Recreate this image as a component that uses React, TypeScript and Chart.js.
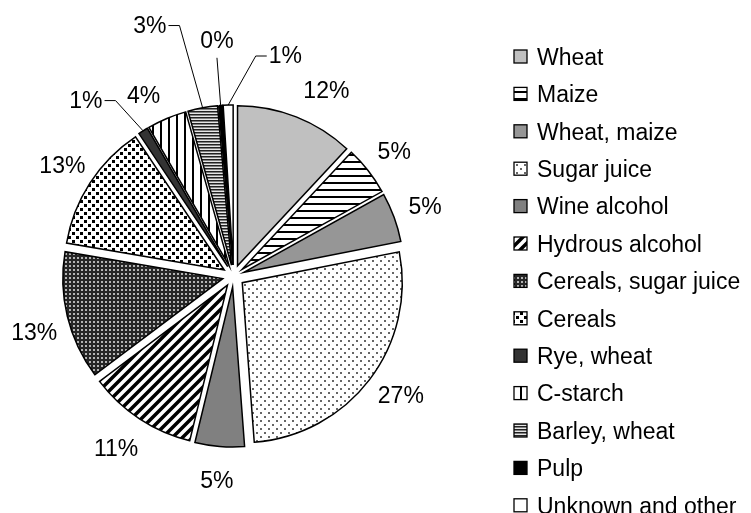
import React, { useEffect, useRef } from 'react';
import { Chart, registerables } from 'chart.js';

Chart.register(...registerables);

// ---- data ----
const CATEGORIES = [
  'Wheat',
  'Maize',
  'Wheat, maize',
  'Sugar juice',
  'Wine alcohol',
  'Hydrous alcohol',
  'Cereals, sugar juice',
  'Cereals',
  'Rye, wheat',
  'C-starch',
  'Barley, wheat',
  'Pulp',
  'Unknown and other',
];
const SHARES = [12, 5, 5, 27, 5, 11, 13, 13, 1, 4, 3, 0.4, 1];

// ---- layout / style ----
const W = 751;
const H = 513;
const FONT = '"Liberation Sans", Arial, Helvetica, sans-serif';
const FONT_SIZE = 23;
const CAP = FONT_SIZE * 0.716;
const PIE_CX = 233.5;
const PIE_CY = 276;
const PIE_R = 160;
const EXPLODE = 11;
const LABEL_GAP = 44;
const LEGEND_X = 514;
const LEGEND_TOP = 56.5;
const LEGEND_STEP = 37.4;
const BOX = 13;
const TEXT_X = 537;

type Nudge = { turn: number; dist: number; leader?: 'side' | 'below' } | null;
const LABEL_NUDGE: Nudge[] = [
  { turn: 5, dist: 208 },
  null,
  null,
  { turn: -2, dist: 205 },
  null,
  { turn: 1, dist: 208 },
  { turn: -2, dist: 207 },
  null,
  { turn: -8, dist: 230, leader: 'side' },
  { turn: -3.5, dist: 202 },
  { turn: -8, dist: 265, leader: 'side' },
  { turn: 0.3, dist: 237, leader: 'below' },
  { turn: 15, dist: 227, leader: 'side' },
];

function tile(w: number, h: number, paint: (c: CanvasRenderingContext2D) => void): CanvasPattern {
  const cv = document.createElement('canvas');
  cv.width = w;
  cv.height = h;
  const c = cv.getContext('2d')!;
  paint(c);
  return c.createPattern(cv, 'repeat')!;
}

function makeFills(): (string | CanvasPattern)[] {
  return [
    '#c0c0c0',
    tile(8, 7, (c) => {
      c.fillStyle = '#fff';
      c.fillRect(0, 0, 8, 7);
      c.fillStyle = '#000';
      c.fillRect(0, 0, 8, 2);
    }),
    '#969696',
    tile(8, 8, (c) => {
      c.fillStyle = '#fff';
      c.fillRect(0, 0, 8, 8);
      c.fillStyle = '#666';
      c.fillRect(0, 0, 2, 2);
      c.fillRect(4, 4, 2, 2);
    }),
    '#808080',
    tile(10, 10, (c) => {
      c.fillStyle = '#fff';
      c.fillRect(0, 0, 10, 10);
      c.strokeStyle = '#000';
      c.lineWidth = 3.5;
      c.beginPath();
      c.moveTo(-1, 11);
      c.lineTo(11, -1);
      c.moveTo(-6, 6);
      c.lineTo(6, -6);
      c.moveTo(4, 16);
      c.lineTo(16, 4);
      c.stroke();
    }),
    tile(4, 4, (c) => {
      c.fillStyle = '#262626';
      c.fillRect(0, 0, 4, 4);
      c.fillStyle = '#b4b4b4';
      c.fillRect(1, 1, 2, 2);
    }),
    tile(8, 8, (c) => {
      c.fillStyle = '#fff';
      c.fillRect(0, 0, 8, 8);
      c.fillStyle = '#000';
      c.fillRect(0, 0, 3, 3);
      c.fillRect(4, 4, 3, 3);
    }),
    '#333333',
    tile(8, 1, (c) => {
      c.fillStyle = '#fff';
      c.fillRect(0, 0, 8, 1);
      c.fillStyle = '#000';
      c.fillRect(0, 0, 2, 1);
    }),
    tile(1, 3, (c) => {
      c.fillStyle = '#222';
      c.fillRect(0, 0, 1, 1);
      c.fillStyle = '#808080';
      c.fillRect(0, 1, 1, 1);
      c.fillStyle = '#e6e6e6';
      c.fillRect(0, 2, 1, 1);
    }),
    '#000000',
    '#ffffff',
  ];
}

const explodePlugin = {
  id: 'explodeSlices',
  afterDatasetUpdate(_chart: any, args: any) {
    args.meta.data.forEach((el: any) => {
      const mid = (el.startAngle + el.endAngle) / 2;
      el.x += Math.cos(mid) * EXPLODE;
      el.y += Math.sin(mid) * EXPLODE;
    });
  },
};

const labelPlugin = {
  id: 'pctLabels',
  afterDatasetsDraw(chart: any) {
    const ctx: CanvasRenderingContext2D = chart.ctx;
    const meta = chart.getDatasetMeta(0);
    const data = chart.data.datasets[0].data as number[];
    const total = data.reduce((a, b) => a + b, 0);
    const cx = (chart.chartArea.left + chart.chartArea.right) / 2;
    const cy = (chart.chartArea.top + chart.chartArea.bottom) / 2;
    ctx.save();
    ctx.font = `${FONT_SIZE}px ${FONT}`;
    ctx.fillStyle = '#000';
    ctx.strokeStyle = '#000';
    ctx.lineWidth = 1;
    meta.data.forEach((el: any, i: number) => {
      const mid = (el.startAngle + el.endAngle) / 2;
      const nudge = LABEL_NUDGE[i];
      const ang = mid + (nudge ? (nudge.turn * Math.PI) / 180 : 0);
      const dist = nudge ? nudge.dist : el.outerRadius + LABEL_GAP;
      const lx = cx + Math.cos(ang) * dist;
      const ly = cy + Math.sin(ang) * dist;
      const text = Math.round((data[i] / total) * 100) + '%';
      const w = ctx.measureText(text).width;
      ctx.textAlign = 'center';
      ctx.textBaseline = 'alphabetic';
      ctx.fillText(text, lx, ly + CAP / 2);
      if (nudge && nudge.leader) {
        const ex = el.x + Math.cos(mid) * el.outerRadius;
        const ey = el.y + Math.sin(mid) * el.outerRadius;
        ctx.beginPath();
        if (nudge.leader === 'below') {
          ctx.moveTo(lx, ly + CAP / 2 + 10);
          ctx.lineTo(ex, ey);
        } else {
          const side = ex > lx ? 1 : -1;
          const sx = lx + side * (w / 2 + 2);
          ctx.moveTo(sx, ly + 1);
          ctx.lineTo(sx + side * 11, ly + 1);
          ctx.lineTo(ex, ey);
        }
        ctx.stroke();
      }
    });
    ctx.restore();
  },
};

const legendPlugin = {
  id: 'sideLegend',
  afterDraw(chart: any) {
    const ctx: CanvasRenderingContext2D = chart.ctx;
    const fills = chart.data.datasets[0].backgroundColor as (string | CanvasPattern)[];
    ctx.save();
    ctx.font = `${FONT_SIZE}px ${FONT}`;
    ctx.textAlign = 'left';
    ctx.textBaseline = 'alphabetic';
    (chart.data.labels as string[]).forEach((lab, i) => {
      const yc = LEGEND_TOP + i * LEGEND_STEP;
      ctx.fillStyle = fills[i];
      ctx.fillRect(LEGEND_X, yc - BOX / 2, BOX, BOX);
      ctx.lineWidth = 1.3;
      ctx.strokeStyle = '#000';
      ctx.strokeRect(LEGEND_X, yc - BOX / 2, BOX, BOX);
      ctx.fillStyle = '#000';
      ctx.fillText(lab, TEXT_X, yc + CAP / 2);
    });
    ctx.restore();
  },
};

export default function App() {
  const ref = useRef<HTMLCanvasElement | null>(null);
  useEffect(() => {
    const canvas = ref.current;
    if (!canvas) return;
    const fills = makeFills();
    const chart = new Chart(canvas, {
      type: 'pie',
      data: {
        labels: CATEGORIES,
        datasets: [
          {
            data: SHARES,
            backgroundColor: fills as any,
            borderColor: '#000',
            borderWidth: 1.5,
            borderJoinStyle: 'miter',
            radius: PIE_R,
          } as any,
        ],
      },
      options: {
        responsive: false,
        animation: false,
        devicePixelRatio: 1,
        radius: PIE_R,
        events: [],
        layout: {
          padding: { left: 0, right: W - 2 * PIE_CX, top: 2 * PIE_CY - H, bottom: 0 },
        },
        plugins: {
          legend: { display: false },
          tooltip: { enabled: false },
        },
      } as any,
      plugins: [explodePlugin, labelPlugin, legendPlugin],
    });
    return () => chart.destroy();
  }, []);
  return (
    <div style={{ position: 'fixed', left: 0, top: 0, width: W, height: H, background: '#fff' }}>
      <canvas ref={ref} width={W} height={H} style={{ display: 'block' }} />
    </div>
  );
}
